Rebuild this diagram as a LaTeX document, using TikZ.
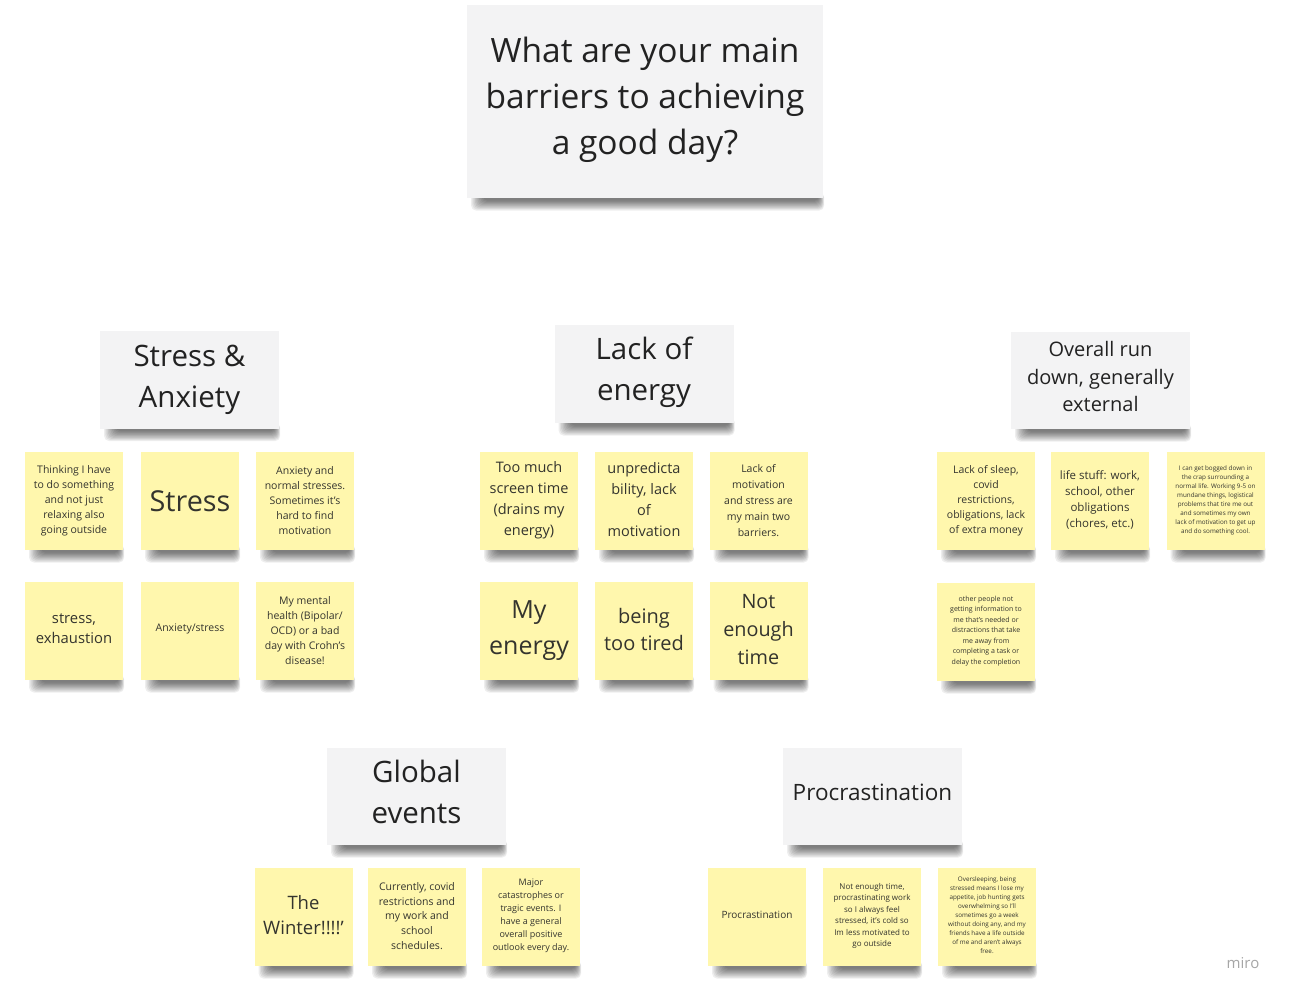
\documentclass[tikz,border=0pt]{standalone}
\usepackage{fontspec}
\setmainfont{Open Sans}
\usetikzlibrary{calc}
\definecolor{stickyyellow}{HTML}{FFF7AD}
\definecolor{cardgray}{HTML}{F3F3F4}
\definecolor{inkdark}{HTML}{222222}
\definecolor{inksoft}{HTML}{34342E}
\pgfdeclarelayer{back}
\pgfdeclarelayer{bg}
\pgfsetlayers{back,bg,main}
\tikzset{
  fz/.style 2 args={font=\fontsize{#1}{#2}\selectfont},
  stickynote/.style={fill=stickyyellow, minimum width=98pt, minimum height=98pt,
    inner sep=0pt, align=center, text=inksoft},
  headercard/.style={fill=cardgray, minimum width=179pt, minimum height=97pt,
    inner sep=0pt, align=center, text=inkdark},
  shadowband/.style={fill=black, opacity=0.065, rounded corners=5pt},
}
\newcommand\dropshadow[1]{%
  \begin{pgfonlayer}{bg}
    \foreach \k in {1,...,10}{
      \fill[shadowband] ($(#1.south west)+(3+1.3*\k,-6)$)
        rectangle ($(#1.south east)+(1.5-0.55*\k,13.5-1.1*\k)$);
    }
  \end{pgfonlayer}}
\begin{document}
\begin{tikzpicture}[x=1pt,y=-1pt]
\begin{pgfonlayer}{back}
\fill[white] (0,0) rectangle (1294,1000);
\end{pgfonlayer}
\useasboundingbox (0,0) rectangle (1294,1000);

% title
\node[headercard, minimum width=356pt, minimum height=193pt, fz={33.5}{46}]
  (title) at (645,101.5) {What are your main\\barriers to achieving\\a good day?\vspace*{4pt}};

% headers
\node[headercard, fz={29.5}{41}] (hstress) at (189.5,380) {Stress \&\\Anxiety\vspace*{1pt}};
\node[headercard, minimum height=98pt, fz={29.5}{41}] (henergy) at (644,374) {Lack of\\energy\vspace*{4pt}};
\node[headercard, fz={20}{27.5}] (hrun) at (1100.5,380.5) {Overall run\\down, generally\\external\vspace*{8pt}};
\node[headercard, fz={29.5}{41}] (hglobal) at (416.5,796.5) {Global\\events\vspace*{9pt}};
\node[headercard, fz={22.5}{28}] (hproc) at (872.5,796.5) {\raisebox{4pt}[\height][\depth]{Procrastination}};

% stress & anxiety group
\node[stickynote, fz={10.5}{15}] (s11) at (74,501) {Thinking I have\\to do something\\and not just\\relaxing also\\going outside};
\node[stickynote, fz={28.8}{32}] (s12) at (190,501) {Stress};
\node[stickynote, fz={10.5}{15}] (s13) at (305,501) {Anxiety and\\normal stresses.\\Sometimes it’s\\hard to find\\motivation};
\node[stickynote, fz={14.8}{20}] (s21) at (74,631) {stress,\\exhaustion\vspace*{4pt}};
\node[stickynote, fz={10.5}{15}] (s22) at (190,631) {\raisebox{2pt}[\height][\depth]{Anxiety/stress}};
\node[stickynote, fz={10.5}{15}] (s23) at (305,631) {My mental\\health (Bipolar/\\OCD) or a bad\\day with Crohn’s\\disease!};

% lack of energy group
\node[stickynote, fz={14.5}{21}] (e11) at (529,501) {Too much\\screen time\\(drains my\\energy)\vspace*{2pt}};
\node[stickynote, fz={14.5}{21}] (e12) at (644,501) {unpredicta\\bility, lack\\of\\motivation\vspace*{2pt}};
\node[stickynote, fz={10.5}{16}] (e13) at (758.5,501) {Lack of\\motivation\\and stress are\\my main two\\barriers.};
\node[stickynote, fz={25}{36}] (e21) at (529,631) {My\\energy};
\node[stickynote, fz={20}{27}] (e22) at (644,631) {being\\too tired\vspace*{4pt}};
\node[stickynote, fz={19.8}{28}] (e23) at (758.5,631) {Not\\enough\\time\vspace*{2pt}};

% overall run down group
\node[stickynote, fz={10.5}{15}] (r11) at (986,501) {Lack of sleep,\\covid\\restrictions,\\obligations, lack\\of extra money};
\node[stickynote, fz={11.5}{16}] (r12) at (1100,501) {life stuff: work,\\school, other\\obligations\\(chores, etc.)\vspace*{2pt}};
\node[stickynote, fz={6.3}{9}] (r13) at (1215.5,501) {I can get bogged down in\\the crap surrounding a\\normal life. Working 9-5 on\\mundane things, logistical\\problems that tire me out\\and sometimes my own\\lack of motivation to get up\\and do something cool.\vspace*{2pt}};
\node[stickynote, fz={7}{10.5}] (r21) at (986,632) {other people not\\getting information to\\me that’s needed or\\distractions that take\\me away from\\completing a task or\\delay the completion\vspace*{2pt}};

% global events group
\node[stickynote, fz={18.5}{25}] (g1) at (303.5,917) {The\\Winter!!!!’\vspace*{4pt}};
\node[stickynote, fz={10.5}{14.8}] (g2) at (417,917) {Currently, covid\\restrictions and\\my work and\\school\\schedules.\vspace*{2pt}};
\node[stickynote, fz={9}{13}] (g3) at (531,917) {Major\\catastrophes or\\tragic events. I\\have a general\\overall positive\\outlook every day.\vspace*{3pt}};

% procrastination group
\node[stickynote, fz={10}{12}] (p1) at (757,917) {\raisebox{2pt}[\height][\depth]{Procrastination}};
\node[stickynote, fz={8}{11.5}] (p2) at (872,917) {Not enough time,\\procrastinating work\\so I always feel\\stressed, it’s cold so\\Im less motivated to\\go outside\vspace*{2pt}};
\node[stickynote, fz={6.3}{9}] (p3) at (987,917) {Oversleeping, being\\stressed means I lose my\\appetite, job hunting gets\\overwhelming so I’ll\\sometimes go a week\\without doing any, and my\\friends have a life outside\\of me and aren’t always\\free.\vspace*{4pt}};

% shadows
\foreach \n in {title,hstress,henergy,hrun,hglobal,hproc,
  s11,s12,s13,s21,s22,s23,e11,e12,e13,e21,e22,e23,
  r11,r12,r13,r21,g1,g2,g3,p1,p2,p3}{\dropshadow{\n}}

% watermark
\node[text=black!35, fz={15}{18}] (miro) at (1243,963) {miro};
\end{tikzpicture}
\end{document}
